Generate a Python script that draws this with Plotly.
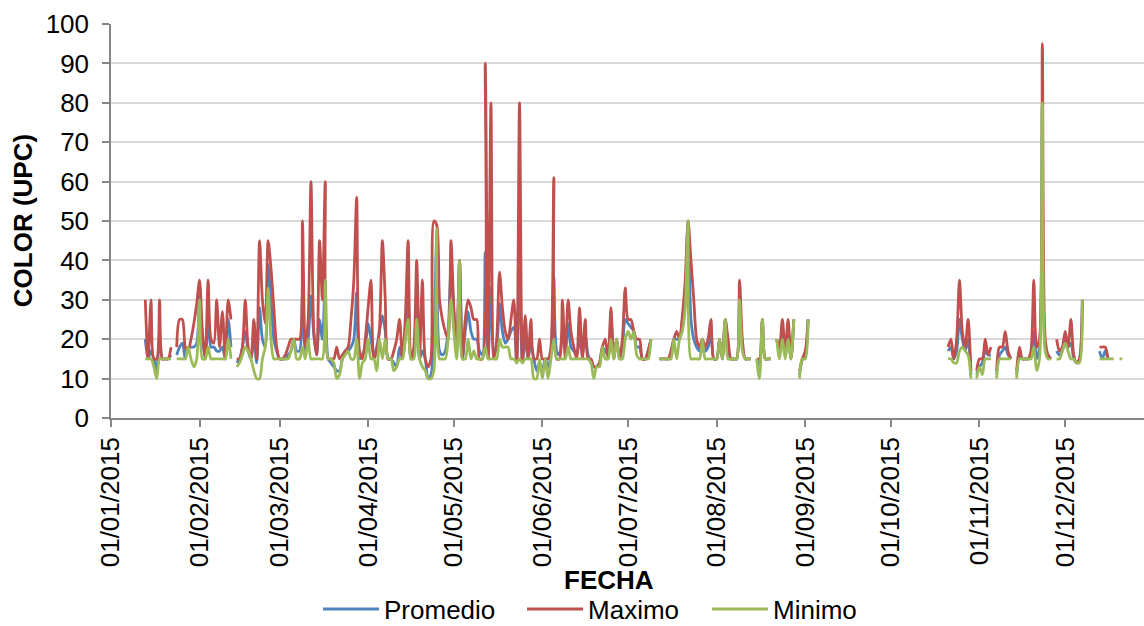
import pandas as pd
import plotly.graph_objects as go

START_DATE = "2015-01-13"
N = None

# Daily values from 13/01/2015 (blocks of 10 days)
MAXIMO = [
    30, 15, 30, 15, 15, 30, 15, 15, 15, 18,
    N, 18, 25, 25, 18, 17, 20, 24, 29, 35,
    22, 15, 35, 20, 19, 30, 18, 27, 15, 30,
    25, N, 15, 15, 18, 30, 18, 15, 25, 15,
    45, 30, 24, 45, 38, 28, 18, 15, 15, 16,
    18, 20, 20, 20, 20, 50, 18, 25, 60, 22,
    16, 45, 30, 60, 15, 15, 15, 18, 15, 16,
    17, 18, 25, 35, 56, 17, 15, 20, 28, 35,
    15, 17, 23, 45, 30, 15, 15, 17, 20, 25,
    15, 25, 45, 15, 18, 40, 15, 35, 15, 13,
    15, 50, 49, 30, 25, 22, 20, 45, 28, 18,
    40, 15, 25, 30, 28, 25, 25, 15, 15, 90,
    15, 80, 15, 20, 37, 28, 22, 20, 25, 30,
    14, 80, 14, 26, 15, 25, 15, 15, 20, 15,
    15, 15, 18, 61, 15, 15, 30, 15, 30, 22,
    18, 15, 28, 15, 25, 15, 15, 13, 13, 14,
    18, 20, 15, 28, 15, 20, 15, 20, 33, 25,
    25, 22, 20, 20, 15, 15, 17, 20, N, N,
    15, 15, 15, 15, 17, 20, 22, 20, 26, 35,
    50, 40, 30, 20, 18, 20, 18, 20, 25, 15,
    15, 20, 15, 25, 20, 15, 15, 15, 35, 20,
    15, 15, 15, N, 15, 15, 25, 15, 15, 15,
    N, 20, 18, 25, 17, 25, 15, 25, N, 12,
    15, 17, 25, N, N, N, N, N, N, N,
    N, N, N, N, N, N, N, N, N, N,
    N, N, N, N, N, N, N, N, N, N,
    N, N, N, N, N, N, N, N, N, N,
    N, N, N, N, N, N, N, N, N, N,
    N, 18, 20, 15, 20, 35, 22, 18, 25, 12,
    N, 12, 15, 15, 20, 16, 18, N, 12, 18,
    18, 22, 17, 15, N, 12, 18, 15, 15, 15,
    17, 35, 18, 20, 95, 20, 16, 15, N, 20,
    17, 18, 22, 18, 25, 16, 14, 15, 30, N,
    N, N, N, N, 18, 18, 18, 15, N, N,
    N, N, N,
]

PROMEDIO = [
    20, 15, 17, 15, 12, 20, 15, 15, 15, 16,
    N, 16, 18, 19, 15, 18, 18, 18, 19, 31,
    20, 15, 25, 18, 18, 17, 17, 18, 15, 25,
    18, N, 14, 15, 18, 22, 17, 15, 20, 14,
    28, 20, 18, 39, 30, 20, 17, 15, 15, 15,
    16, 17, 20, 17, 17, 31, 17, 20, 31, 21,
    16, 25, 20, 35, 15, 14, 13, 12, 12, 15,
    17, 17, 18, 20, 32, 15, 16, 18, 24, 20,
    16, 18, 22, 26, 22, 15, 15, 14, 13, 18,
    15, 20, 33, 15, 16, 30, 15, 17, 15, 10,
    11, 20, 45, 17, 16, 17, 22, 37, 27, 17,
    40, 15, 22, 27, 22, 20, 20, 17, 16, 42,
    15, 33, 16, 18, 29, 22, 19, 20, 22, 23,
    14, 38, 14, 20, 15, 19, 15, 12, 14, 12,
    15, 13, 16, 36, 17, 16, 22, 17, 24, 18,
    17, 16, 20, 16, 21, 16, 14, 13, 13, 14,
    18, 17, 16, 25, 16, 20, 15, 18, 25, 24,
    23, 22, 18, 18, 15, 15, 17, 20, N, N,
    15, 15, 15, 15, 16, 20, 20, 20, 25, 32,
    50, 25, 20, 18, 17, 20, 17, 18, 22, 15,
    15, 20, 15, 25, 18, 15, 15, 15, 30, 18,
    15, 15, 15, N, 15, 13, 25, 15, 15, 15,
    N, 20, 17, 22, 16, 22, 15, 25, N, 11,
    15, 16, 25, N, N, N, N, N, N, N,
    N, N, N, N, N, N, N, N, N, N,
    N, N, N, N, N, N, N, N, N, N,
    N, N, N, N, N, N, N, N, N, N,
    N, N, N, N, N, N, N, N, N, N,
    N, 17, 18, 15, 17, 25, 20, 17, 20, 11,
    N, 11, 13, 14, 17, 16, 16, N, 11, 16,
    17, 18, 16, 15, N, 11, 16, 15, 15, 15,
    16, 22, 15, 18, 80, 18, 16, 15, N, 17,
    16, 17, 20, 18, 19, 15, 14, 15, 30, N,
    N, N, N, N, 17, 15, 17, 15, N, N,
    N, N, N,
]

MINIMO = [
    15, 15, 15, 13, 10, 15, 15, 15, 15, 15,
    N, 15, 15, 15, 15, 18, 15, 13, 15, 30,
    15, 15, 18, 15, 15, 15, 15, 15, 15, 20,
    15, N, 13, 14, 16, 18, 17, 15, 12, 10,
    10, 15, 18, 33, 20, 15, 15, 15, 15, 15,
    15, 17, 20, 15, 15, 18, 15, 20, 15, 15,
    15, 15, 15, 35, 15, 15, 14, 10, 11, 15,
    16, 17, 15, 15, 20, 10, 14, 15, 20, 15,
    15, 12, 20, 15, 20, 15, 15, 12, 13, 15,
    15, 20, 25, 15, 15, 25, 15, 13, 12, 10,
    10, 12, 48, 15, 15, 15, 20, 30, 22, 15,
    40, 15, 15, 20, 15, 17, 15, 15, 15, 18,
    15, 15, 15, 15, 20, 18, 18, 18, 15, 15,
    14, 15, 14, 15, 15, 15, 10, 10, 15, 10,
    15, 10, 15, 20, 15, 15, 15, 15, 18, 15,
    15, 15, 15, 15, 15, 15, 14, 10, 13, 13,
    18, 15, 15, 20, 15, 20, 15, 15, 20, 22,
    20, 22, 16, 15, 15, 15, 15, 20, N, N,
    15, 15, 15, 15, 15, 20, 15, 20, 22, 28,
    50, 15, 15, 15, 15, 20, 15, 15, 15, 15,
    15, 20, 15, 25, 15, 15, 15, 15, 30, 17,
    15, 15, 15, N, 15, 10, 25, 15, 15, 15,
    N, 20, 15, 20, 15, 20, 15, 25, N, 10,
    15, 15, 25, N, N, N, N, N, N, N,
    N, N, N, N, N, N, N, N, N, N,
    N, N, N, N, N, N, N, N, N, N,
    N, N, N, N, N, N, N, N, N, N,
    N, N, N, N, N, N, N, N, N, N,
    N, 15, 15, 14, 14, 17, 18, 17, 16, 10,
    N, 10, 13, 11, 15, 15, 15, N, 10, 15,
    15, 15, 15, 15, N, 10, 15, 15, 15, 15,
    15, 18, 12, 15, 80, 17, 15, 15, N, 15,
    15, 17, 19, 17, 15, 15, 14, 14, 30, N,
    N, N, N, N, 15, 15, 15, 15, 15, 15,
    N, 15, 15,
]

TICK_DATES = [f"2015-{m:02d}-01" for m in range(1, 13)]
TICK_LABELS = [f"01/{m:02d}/2015" for m in range(1, 13)]

dates = pd.date_range(START_DATE, periods=len(MAXIMO), freq="D")

FONT = "Liberation Sans, Arial, sans-serif"
AXIS_COLOR = "#868686"

fig = go.Figure()
series = [
    ("Promedio", PROMEDIO, "#4F81BD", 133),
    ("Maximo", MAXIMO, "#C0504D", 114),
    ("Minimo", MINIMO, "#9BBB59", 100),
]
for name, vals, color, lw in series:
    fig.add_trace(go.Scatter(
        x=dates, y=vals, name=name, mode="lines",
        line=dict(color=color, width=2.8, shape="spline", smoothing=0.8),
        connectgaps=False,
        legendwidth=lw,
    ))

fig.update_layout(
    width=1144, height=626,
    margin=dict(l=111, r=0, t=24, b=208),
    paper_bgcolor="white", plot_bgcolor="white",
    font=dict(family=FONT, size=26, color="black"),
    showlegend=True,
    legend=dict(
        orientation="h",
        xref="container", yref="container",
        x=0.278, xanchor="left",
        y=0.027, yanchor="middle",
        font=dict(family=FONT, size=26, color="black"),
        itemwidth=56, entrywidthmode="pixels",
        tracegroupgap=0,
        bgcolor="rgba(0,0,0,0)",
    ),
    xaxis=dict(
        type="date",
        range=["2015-01-01", "2015-12-28 14:00"],
        tickvals=TICK_DATES, ticktext=TICK_LABELS,
        tickangle=-90,
        ticks="outside", ticklen=7, tickcolor=AXIS_COLOR, tickwidth=1.5,
        showline=True, linecolor=AXIS_COLOR, linewidth=1.5,
        showgrid=False, zeroline=False,
        tickfont=dict(family=FONT, size=26, color="black"),
    ),
    yaxis=dict(
        range=[0, 100], dtick=10, tick0=0,
        ticks="outside", ticklen=7, tickcolor=AXIS_COLOR, tickwidth=1.5,
        showline=True, linecolor=AXIS_COLOR, linewidth=1.5,
        showgrid=True, gridcolor="#d9d9d9", gridwidth=1.5,
        zeroline=False,
        tickfont=dict(family=FONT, size=26, color="black"),
        ticklabelstandoff=8,
    ),
    annotations=[
        dict(text="<b>COLOR (UPC)</b>", xref="paper", yref="paper",
             x=-0.085, y=0.5, xanchor="center", yanchor="middle",
             textangle=-90, showarrow=False,
             font=dict(family=FONT, size=26, color="black")),
        dict(text="<b>FECHA</b>", xref="paper", yref="paper",
             x=0.482, y=-0.411, xanchor="center", yanchor="middle",
             showarrow=False,
             font=dict(family=FONT, size=26, color="black")),
    ],
)

fig.write_html("out.html")
